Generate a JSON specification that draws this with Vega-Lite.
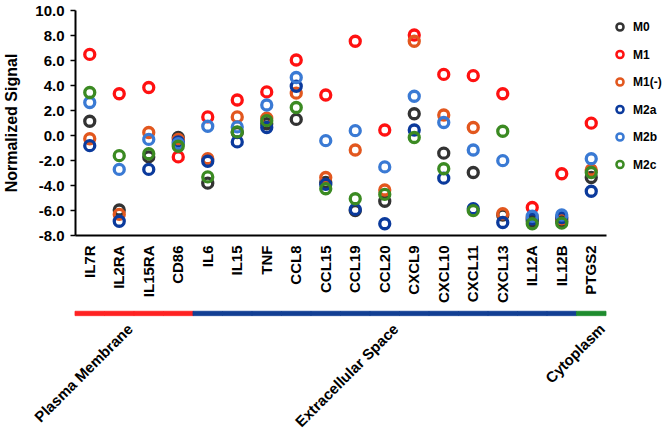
{
  "$schema": "https://vega.github.io/schema/vega-lite/v6.json",
  "width": 531,
  "height": 225,
  "autosize": "none",
  "padding": {"left": 75, "top": 10, "right": 61, "bottom": 195},
  "config": {"view": {"stroke": null}, "font": "Liberation Sans", "axis": {"labelOverlap": false}, "axisY": {"labelOverlap": false, "tickCount": 10}},
  "datasets": {
    "points": [
      {"gene": "IL7R", "cell": "M0", "value": 1.1}, {"gene": "IL7R", "cell": "M1", "value": 6.45}, {"gene": "IL7R", "cell": "M1(-)", "value": -0.3}, {"gene": "IL7R", "cell": "M2a", "value": -0.85}, {"gene": "IL7R", "cell": "M2b", "value": 2.6}, {"gene": "IL7R", "cell": "M2c", "value": 3.4},
      {"gene": "IL2RA", "cell": "M0", "value": -6.0}, {"gene": "IL2RA", "cell": "M1", "value": 3.3}, {"gene": "IL2RA", "cell": "M1(-)", "value": -6.35}, {"gene": "IL2RA", "cell": "M2a", "value": -6.9}, {"gene": "IL2RA", "cell": "M2b", "value": -2.75}, {"gene": "IL2RA", "cell": "M2c", "value": -1.65},
      {"gene": "IL15RA", "cell": "M0", "value": -1.75}, {"gene": "IL15RA", "cell": "M1", "value": 3.8}, {"gene": "IL15RA", "cell": "M1(-)", "value": 0.2}, {"gene": "IL15RA", "cell": "M2a", "value": -2.75}, {"gene": "IL15RA", "cell": "M2b", "value": -0.35}, {"gene": "IL15RA", "cell": "M2c", "value": -1.5},
      {"gene": "CD86", "cell": "M0", "value": -0.2}, {"gene": "CD86", "cell": "M1", "value": -1.75}, {"gene": "CD86", "cell": "M1(-)", "value": -0.35}, {"gene": "CD86", "cell": "M2a", "value": -0.55}, {"gene": "CD86", "cell": "M2b", "value": -0.7}, {"gene": "CD86", "cell": "M2c", "value": -0.9},
      {"gene": "IL6", "cell": "M0", "value": -3.85}, {"gene": "IL6", "cell": "M1", "value": 1.45}, {"gene": "IL6", "cell": "M1(-)", "value": -1.9}, {"gene": "IL6", "cell": "M2a", "value": -2.1}, {"gene": "IL6", "cell": "M2b", "value": 0.7}, {"gene": "IL6", "cell": "M2c", "value": -3.35},
      {"gene": "IL15", "cell": "M0", "value": 0.2}, {"gene": "IL15", "cell": "M1", "value": 2.8}, {"gene": "IL15", "cell": "M1(-)", "value": 1.45}, {"gene": "IL15", "cell": "M2a", "value": -0.55}, {"gene": "IL15", "cell": "M2b", "value": 0.65}, {"gene": "IL15", "cell": "M2c", "value": 0.25},
      {"gene": "TNF", "cell": "M0", "value": 0.9}, {"gene": "TNF", "cell": "M1", "value": 3.45}, {"gene": "TNF", "cell": "M1(-)", "value": 1.35}, {"gene": "TNF", "cell": "M2a", "value": 0.6}, {"gene": "TNF", "cell": "M2b", "value": 2.4}, {"gene": "TNF", "cell": "M2c", "value": 1.15},
      {"gene": "CCL8", "cell": "M0", "value": 1.25}, {"gene": "CCL8", "cell": "M1", "value": 6.0}, {"gene": "CCL8", "cell": "M1(-)", "value": 3.35}, {"gene": "CCL8", "cell": "M2a", "value": 3.9}, {"gene": "CCL8", "cell": "M2b", "value": 4.6}, {"gene": "CCL8", "cell": "M2c", "value": 2.2},
      {"gene": "CCL15", "cell": "M0", "value": -3.8}, {"gene": "CCL15", "cell": "M1", "value": 3.2}, {"gene": "CCL15", "cell": "M1(-)", "value": -3.4}, {"gene": "CCL15", "cell": "M2a", "value": -3.95}, {"gene": "CCL15", "cell": "M2b", "value": -0.45}, {"gene": "CCL15", "cell": "M2c", "value": -4.3},
      {"gene": "CCL19", "cell": "M0", "value": -6.05}, {"gene": "CCL19", "cell": "M1", "value": 7.5}, {"gene": "CCL19", "cell": "M1(-)", "value": -1.2}, {"gene": "CCL19", "cell": "M2a", "value": -5.95}, {"gene": "CCL19", "cell": "M2b", "value": 0.35}, {"gene": "CCL19", "cell": "M2c", "value": -5.1},
      {"gene": "CCL20", "cell": "M0", "value": -5.3}, {"gene": "CCL20", "cell": "M1", "value": 0.4}, {"gene": "CCL20", "cell": "M1(-)", "value": -4.4}, {"gene": "CCL20", "cell": "M2a", "value": -7.1}, {"gene": "CCL20", "cell": "M2b", "value": -2.55}, {"gene": "CCL20", "cell": "M2c", "value": -4.75},
      {"gene": "CXCL9", "cell": "M0", "value": 1.7}, {"gene": "CXCL9", "cell": "M1", "value": 8.0}, {"gene": "CXCL9", "cell": "M1(-)", "value": 7.5}, {"gene": "CXCL9", "cell": "M2a", "value": 0.4}, {"gene": "CXCL9", "cell": "M2b", "value": 3.1}, {"gene": "CXCL9", "cell": "M2c", "value": -0.2},
      {"gene": "CXCL10", "cell": "M0", "value": -1.45}, {"gene": "CXCL10", "cell": "M1", "value": 4.85}, {"gene": "CXCL10", "cell": "M1(-)", "value": 1.6}, {"gene": "CXCL10", "cell": "M2a", "value": -3.45}, {"gene": "CXCL10", "cell": "M2b", "value": 1.0}, {"gene": "CXCL10", "cell": "M2c", "value": -2.7},
      {"gene": "CXCL11", "cell": "M0", "value": -3.0}, {"gene": "CXCL11", "cell": "M1", "value": 4.75}, {"gene": "CXCL11", "cell": "M1(-)", "value": 0.6}, {"gene": "CXCL11", "cell": "M2a", "value": -5.9}, {"gene": "CXCL11", "cell": "M2b", "value": -1.2}, {"gene": "CXCL11", "cell": "M2c", "value": -6.05},
      {"gene": "CXCL13", "cell": "M0", "value": -6.4}, {"gene": "CXCL13", "cell": "M1", "value": 3.3}, {"gene": "CXCL13", "cell": "M1(-)", "value": -6.3}, {"gene": "CXCL13", "cell": "M2a", "value": -7.0}, {"gene": "CXCL13", "cell": "M2b", "value": -2.05}, {"gene": "CXCL13", "cell": "M2c", "value": 0.3},
      {"gene": "IL12A", "cell": "M0", "value": -6.9}, {"gene": "IL12A", "cell": "M1", "value": -5.8}, {"gene": "IL12A", "cell": "M1(-)", "value": -6.6}, {"gene": "IL12A", "cell": "M2a", "value": -6.7}, {"gene": "IL12A", "cell": "M2b", "value": -6.5}, {"gene": "IL12A", "cell": "M2c", "value": -7.1},
      {"gene": "IL12B", "cell": "M0", "value": -6.9}, {"gene": "IL12B", "cell": "M1", "value": -3.1}, {"gene": "IL12B", "cell": "M1(-)", "value": -6.7}, {"gene": "IL12B", "cell": "M2a", "value": -6.6}, {"gene": "IL12B", "cell": "M2b", "value": -6.4}, {"gene": "IL12B", "cell": "M2c", "value": -7.05},
      {"gene": "PTGS2", "cell": "M0", "value": -3.4}, {"gene": "PTGS2", "cell": "M1", "value": 0.95}, {"gene": "PTGS2", "cell": "M1(-)", "value": -2.8}, {"gene": "PTGS2", "cell": "M2a", "value": -4.5}, {"gene": "PTGS2", "cell": "M2b", "value": -1.9}, {"gene": "PTGS2", "cell": "M2c", "value": -3.0}
    ],
    "genes": [
      {"gene": "IL7R", "location": "Plasma Membrane"}, {"gene": "IL2RA", "location": "Plasma Membrane"}, {"gene": "IL15RA", "location": "Plasma Membrane"}, {"gene": "CD86", "location": "Plasma Membrane"},
      {"gene": "IL6", "location": "Extracellular Space"}, {"gene": "IL15", "location": "Extracellular Space"}, {"gene": "TNF", "location": "Extracellular Space"}, {"gene": "CCL8", "location": "Extracellular Space"}, {"gene": "CCL15", "location": "Extracellular Space"}, {"gene": "CCL19", "location": "Extracellular Space"}, {"gene": "CCL20", "location": "Extracellular Space"}, {"gene": "CXCL9", "location": "Extracellular Space"}, {"gene": "CXCL10", "location": "Extracellular Space"}, {"gene": "CXCL11", "location": "Extracellular Space"}, {"gene": "CXCL13", "location": "Extracellular Space"}, {"gene": "IL12A", "location": "Extracellular Space"}, {"gene": "IL12B", "location": "Extracellular Space"},
      {"gene": "PTGS2", "location": "Cytoplasm"}
    ],
    "labels": [
      {"gene": "IL2RA", "location": "Plasma Membrane"},
      {"gene": "CCL20", "location": "Extracellular Space"},
      {"gene": "PTGS2", "location": "Cytoplasm"}
    ]
  },
  "layer": [
    {
      "data": {"name": "points"},
      "mark": {"type": "point", "shape": "circle", "filled": false, "strokeWidth": 3.3, "size": 100, "opacity": 1},
      "encoding": {
        "x": {
          "field": "gene", "type": "nominal",
          "scale": {"type": "band", "paddingInner": 0, "paddingOuter": 0, "domain": ["IL7R", "IL2RA", "IL15RA", "CD86", "IL6", "IL15", "TNF", "CCL8", "CCL15", "CCL19", "CCL20", "CXCL9", "CXCL10", "CXCL11", "CXCL13", "IL12A", "IL12B", "PTGS2"]},
          "axis": {"title": null, "labelAngle": -90, "ticks": false, "domainColor": "black", "domainWidth": 2, "labelFontSize": 15, "labelFontWeight": "bold", "labelColor": "black", "labelPadding": 10, "grid": false, "labelOverlap": false}
        },
        "y": {
          "field": "value", "type": "quantitative",
          "scale": {"domain": [-8, 10], "nice": false, "zero": false},
          "axis": {"title": "Normalized Signal", "values": [-8, -6, -4, -2, 0, 2, 4, 6, 8, 10], "labelExpr": "replace(format(datum.value, '.1f'), '\u2212', '-')", "labelOverlap": false, "grid": false, "domainColor": "black", "domainWidth": 2, "tickColor": "black", "tickWidth": 1.5, "tickSize": 5, "labelFontSize": 15, "labelFontWeight": "bold", "labelColor": "black", "labelPadding": 6, "titleFontSize": 16, "titleFontWeight": "bold", "titleColor": "black", "titlePadding": 15}
        },
        "color": {
          "field": "cell", "type": "nominal",
          "scale": {"domain": ["M0", "M1", "M1(-)", "M2a", "M2b", "M2c"], "range": ["#333333", "#ff1111", "#e2571e", "#0b3a9c", "#3a7ad4", "#3b8a22"]},
          "legend": {"title": null, "orient": "right", "offset": -3, "padding": 11, "labelFontSize": 12, "labelFontWeight": "bold", "labelColor": "black", "labelOffset": 7, "rowPadding": 9.5, "symbolSize": 50, "symbolStrokeWidth": 2.5, "symbolType": "circle"}
        }
      }
    },
    {
      "data": {"name": "genes"},
      "mark": {"type": "rect", "strokeWidth": 0.8},
      "encoding": {
        "x": {"field": "gene", "type": "nominal"},
        "y": {"datum": -14.1, "type": "quantitative"},
        "y2": {"datum": -14.45},
        "color": {
          "field": "location", "type": "nominal",
          "scale": {"domain": ["Plasma Membrane", "Extracellular Space", "Cytoplasm"], "range": ["#ff2222", "#123f93", "#1e8c2e"]},
          "legend": null
        },
        "stroke": {
          "field": "location", "type": "nominal",
          "scale": {"domain": ["Plasma Membrane", "Extracellular Space", "Cytoplasm"], "range": ["#ff2222", "#123f93", "#1e8c2e"]},
          "legend": null
        }
      }
    },
    {
      "data": {"name": "labels"},
      "mark": {"type": "text", "angle": -45, "align": "right", "baseline": "alphabetic", "fontSize": 15, "fontWeight": "bold", "color": "black"},
      "encoding": {
        "x": {"field": "gene", "type": "nominal", "bandPosition": 1},
        "y": {"datum": -15.6, "type": "quantitative"},
        "text": {"field": "location"}
      }
    }
  ],
  "resolve": {"scale": {"color": "independent", "stroke": "independent"}, "legend": {"color": "independent", "stroke": "independent"}}
}
